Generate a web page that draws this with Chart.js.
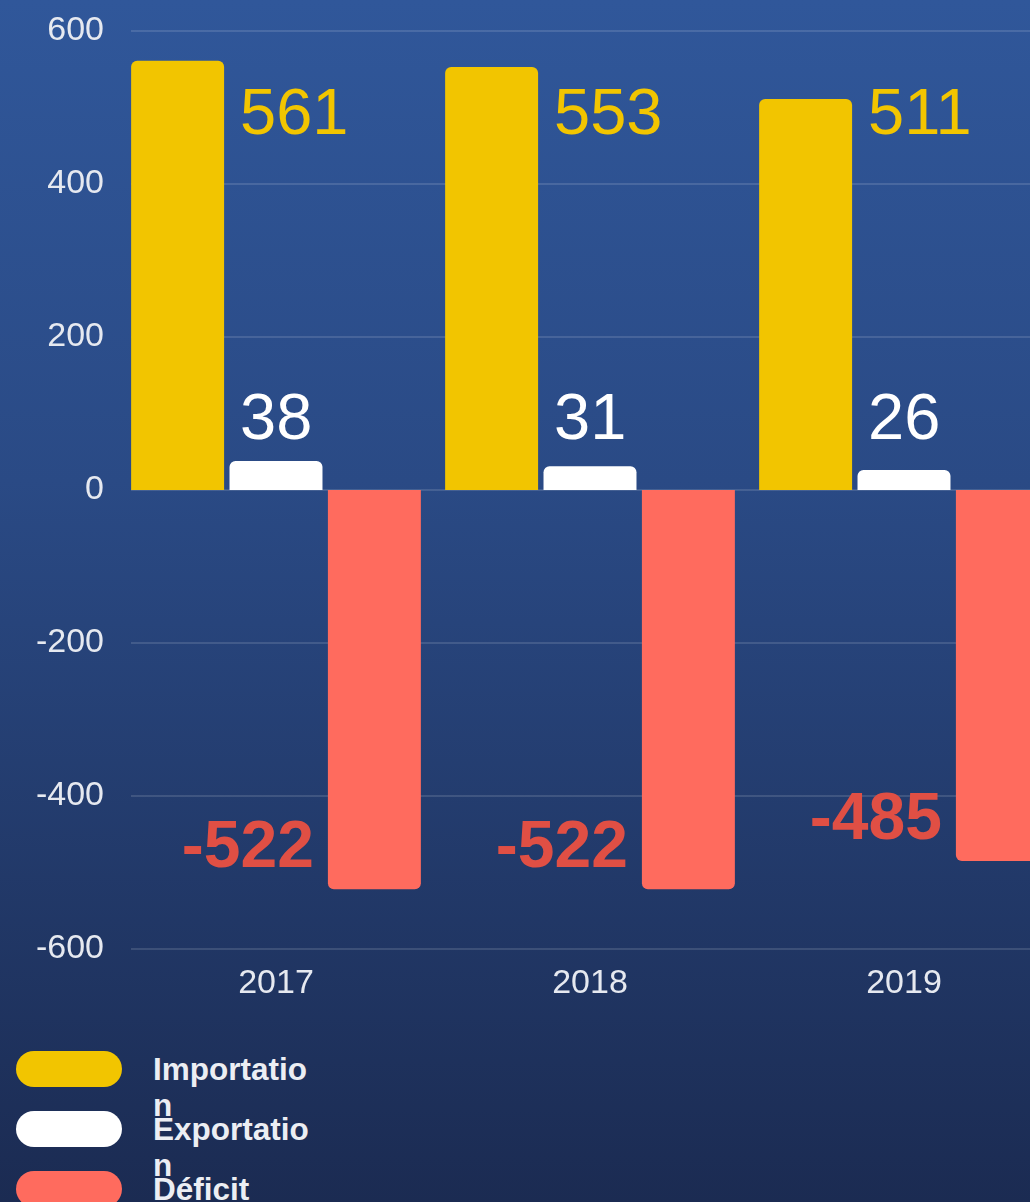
<!DOCTYPE html>
<html>
<head>
<meta charset="utf-8">
<script src="https://cdn.jsdelivr.net/npm/chart.js@4.4.0/dist/chart.umd.min.js"></script>
<style>
  html, body { margin: 0; padding: 0; }
  body {
    width: 1030px; height: 1202px; overflow: hidden; position: relative;
    background: linear-gradient(to bottom, #30579a 0%, #2a4a85 40%, #1b2b52 100%);
    font-family: "Liberation Sans", Arial, sans-serif;
  }
  #wrap { position: absolute; left: 0; top: 0; width: 1080px; height: 1010px; }
  #legend { position: absolute; left: 16px; top: 1051px; }
  .item { display: flex; align-items: flex-start; height: 60px; }
  .swatch { width: 106px; height: 36px; border-radius: 18px; flex: none; }
  .txt {
    margin-left: 31px; width: 164px; word-break: break-all;
    color: #eceef3; font-weight: bold; font-size: 31.5px; line-height: 36px;
  }
</style>
</head>
<body>
<div id="wrap"><canvas id="chart"></canvas></div>
<div id="legend"></div>
<script>
document.addEventListener('DOMContentLoaded', function() {
    // Datos
    const categories = ['2017', '2018', '2019'];
    const importation = [561, 553, 511];
    const exportation = [38, 31, 26];
    const deficit = [-522, -522, -485];
    const seriesNames = ['Importation', 'Exportation', 'Déficit'];
    const yMin = -600, yMax = 600, yStep = 200;

    const colors = ['#f2c500', '#ffffff', '#ff6b5e'];

    // líneas de la grilla (empiezan un poco a la derecha del eje)
    const gridPlugin = {
        id: 'gridLines',
        beforeDatasetsDraw(chart) {
            const ctx = chart.ctx, area = chart.chartArea, y = chart.scales.y;
            ctx.save();
            ctx.strokeStyle = 'rgba(255,255,255,0.13)';
            ctx.lineWidth = 2;
            y.ticks.forEach(t => {
                const py = Math.round(y.getPixelForValue(t.value));
                ctx.beginPath();
                ctx.moveTo(area.left + 12, py);
                ctx.lineTo(area.right, py);
                ctx.stroke();
            });
            ctx.restore();
        }
    };

    // etiquetas de valores
    const labelPlugin = {
        id: 'valueLabels',
        afterDatasetsDraw(chart) {
            const ctx = chart.ctx, area = chart.chartArea;
            const x = chart.scales.x, y = chart.scales.y;
            const zeroY = y.getPixelForValue(0);
            const red = chart.getDatasetMeta(2).data;
            ctx.save();
            ctx.textBaseline = 'alphabetic';
            categories.forEach((c, i) => {
                const lx = x.getPixelForValue(i) - 36;
                ctx.font = '65px "Liberation Sans", Arial, sans-serif';
                ctx.textAlign = 'left';
                ctx.fillStyle = colors[0];
                ctx.fillText(String(importation[i]), lx, area.top + 103);
                ctx.fillStyle = colors[1];
                ctx.fillText(String(exportation[i]), lx, zeroY - 51);

                const bar = red[i];
                ctx.font = 'bold 66px "Liberation Sans", Arial, sans-serif';
                ctx.textAlign = 'right';
                ctx.fillStyle = '#e04f44';
                ctx.fillText(String(deficit[i]), bar.x - bar.width / 2 - 14, bar.y - 22);
            });
            ctx.restore();
        }
    };

    const ctx = document.getElementById('chart').getContext('2d');
    const chart = new Chart(ctx, {
        type: 'bar',
        data: {
            labels: categories,
            datasets: [importation, exportation, deficit].map((d, k) => ({
                label: seriesNames[k],
                data: d,
                backgroundColor: colors[k],
                borderWidth: 0,
                borderRadius: 6,
                categoryPercentage: 0.94,
                barPercentage: 0.945
            }))
        },
        options: {
            responsive: true,
            maintainAspectRatio: false,
            animation: false,
            layout: { padding: { top: 31, right: 19, bottom: 0, left: 0 } },
            plugins: { legend: { display: false }, tooltip: { enabled: false } },
            scales: {
                x: {
                    grid: { display: false },
                    border: { display: false },
                    ticks: {
                        color: '#e6e9f0', padding: 6,
                        font: { size: 34, family: '"Liberation Sans", Arial, sans-serif' }
                    },
                    afterFit: s => { s.height = 61; }
                },
                y: {
                    min: yMin, max: yMax,
                    grid: { display: false },
                    border: { display: false },
                    ticks: {
                        stepSize: yStep, color: '#e6e9f0', padding: 7,
                        font: { size: 34, family: '"Liberation Sans", Arial, sans-serif' }
                    },
                    afterFit: s => { s.width = 119; }
                }
            }
        },
        plugins: [gridPlugin, labelPlugin]
    });

    // leyenda HTML
    const legend = document.getElementById('legend');
    chart.data.datasets.forEach(ds => {
        const row = document.createElement('div');
        row.className = 'item';
        row.innerHTML = `<div class="swatch" style="background:${ds.backgroundColor}"></div><div class="txt">${ds.label}</div>`;
        legend.appendChild(row);
    });
});
</script>
</body>
</html>
